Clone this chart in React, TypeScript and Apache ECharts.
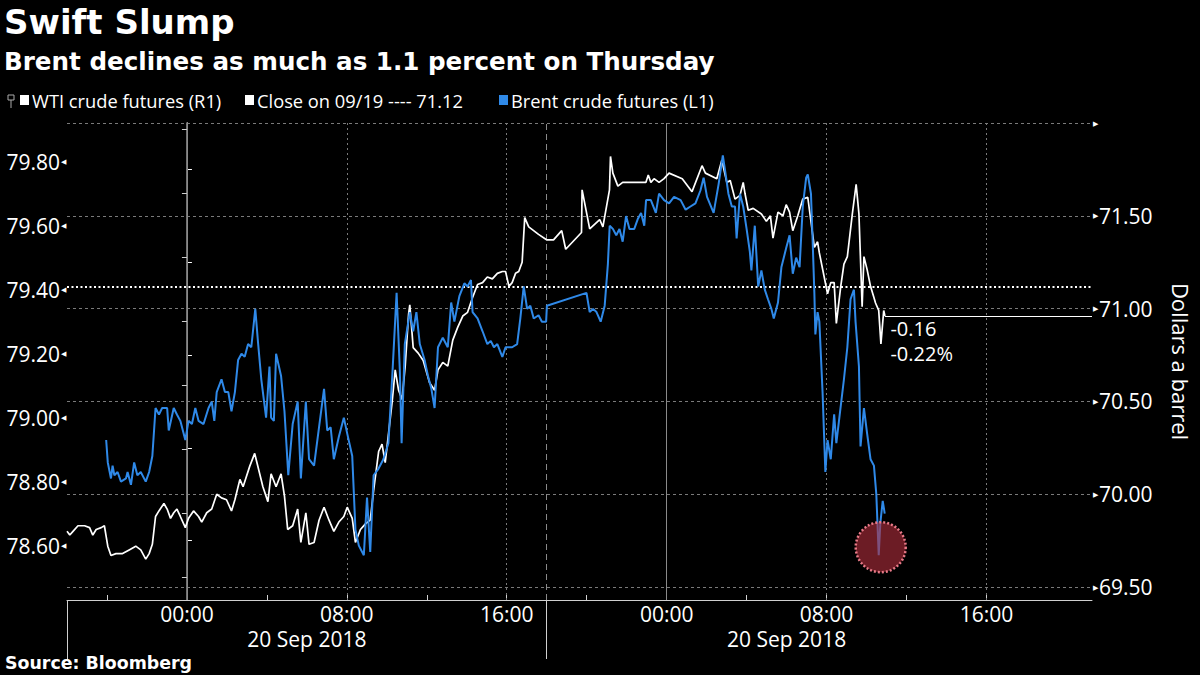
import React, { useEffect, useRef } from "react";
import * as echarts from "echarts";

// ---- Data (hours relative to 20 Sep 2018 00:00, price) ----
const wtiSeries: [number, number][] = [
  [-6.0, 69.8], [-5.86, 69.78], [-5.7, 69.8], [-5.45, 69.83], [-5.12, 69.83], [-4.87, 69.82], [-4.71, 69.78],
  [-4.54, 69.81], [-4.29, 69.82], [-4.13, 69.83], [-3.96, 69.72], [-3.8, 69.67], [-3.55, 69.68], [-3.22, 69.68],
  [-2.89, 69.7], [-2.56, 69.72], [-2.31, 69.7], [-2.06, 69.65], [-1.89, 69.68], [-1.73, 69.73], [-1.57, 69.88],
  [-1.4, 69.91], [-1.15, 69.95], [-0.99, 69.92], [-0.82, 69.87], [-0.66, 69.9], [-0.5, 69.92], [-0.33, 69.88],
  [-0.08, 69.82], [0.08, 69.87], [0.33, 69.91], [0.58, 69.88], [0.74, 69.85], [0.99, 69.9], [1.24, 69.92],
  [1.49, 70.0], [1.73, 69.98], [1.98, 69.97], [2.23, 69.91], [2.4, 69.97], [2.65, 70.08], [2.81, 70.04],
  [3.14, 70.15], [3.39, 70.22], [3.64, 70.11], [3.8, 70.04], [4.05, 69.96], [4.21, 70.11], [4.46, 70.04],
  [4.71, 70.11], [4.88, 69.99], [5.04, 69.81], [5.29, 69.83], [5.54, 69.92], [5.7, 69.74], [5.95, 69.9],
  [6.11, 69.73], [6.36, 69.74], [6.61, 69.86], [6.86, 69.93], [7.11, 69.86], [7.35, 69.8], [7.6, 69.85],
  [7.85, 69.88], [8.02, 69.93], [8.27, 69.87], [8.43, 69.74], [8.68, 69.81], [8.93, 69.84], [9.17, 69.86],
  [9.34, 70.02], [9.59, 70.23], [9.76, 70.27], [9.92, 70.17], [10.09, 70.33], [10.26, 70.49], [10.42, 70.67],
  [10.59, 70.56], [10.76, 70.51], [10.92, 70.69], [11.09, 70.97], [11.15, 71.02], [11.32, 70.79], [11.57, 70.76],
  [11.82, 70.72], [12.14, 70.6], [12.39, 70.56], [12.56, 70.67], [12.8, 70.71], [13.05, 70.69], [13.3, 70.83],
  [13.55, 70.9], [13.8, 70.96], [14.04, 70.98], [14.29, 71.06], [14.54, 71.13], [14.79, 71.14], [15.03, 71.17],
  [15.28, 71.16], [15.53, 71.19], [15.78, 71.2], [15.94, 71.2], [16.11, 71.12], [16.27, 71.14], [16.44, 71.19],
  [16.6, 71.2], [16.77, 71.25], [16.9, 71.49], [17.1, 71.44], [17.59, 71.4], [18.01, 71.37], [18.34, 71.37],
  [18.75, 71.42], [18.95, 71.32], [19.74, 71.41], [19.77, 71.64], [20.15, 71.43], [20.65, 71.48], [20.81, 71.44],
  [21.14, 71.64], [21.19, 71.82], [21.31, 71.73], [21.56, 71.66], [21.8, 71.68], [22.96, 71.68], [23.08, 71.72],
  [23.21, 71.68], [23.37, 71.7], [23.62, 71.68], [23.87, 71.7], [24.12, 71.73], [24.78, 71.7], [25.27, 71.63],
  [25.77, 71.77], [25.94, 71.73], [26.51, 71.7], [26.76, 71.8], [27.01, 71.68], [27.18, 71.69], [27.42, 71.59],
  [27.67, 71.61], [27.83, 71.68], [27.92, 71.62], [28.08, 71.53], [28.33, 71.54], [28.74, 71.51], [28.99, 71.47],
  [29.19, 71.5], [29.32, 71.38], [29.57, 71.52], [29.82, 71.5], [29.98, 71.56], [30.15, 71.52], [30.31, 71.42],
  [30.56, 71.5], [30.81, 71.59], [31.06, 71.6], [31.39, 71.33], [31.55, 71.36], [31.64, 71.3], [32.05, 71.08],
  [32.21, 71.14], [32.38, 71.14], [32.49, 70.92], [32.71, 71.12], [32.87, 71.24], [33.04, 71.28], [33.29, 71.51],
  [33.48, 71.67], [33.62, 71.51], [33.78, 71.01], [33.87, 71.28], [34.03, 71.21], [34.2, 71.12], [34.37, 71.06],
  [34.45, 71.03], [34.61, 70.99], [34.72, 70.81], [34.86, 70.99], [34.92, 70.96],
];

const brentSeries: [number, number][] = [
  [-4.04, 78.93], [-3.96, 78.86], [-3.8, 78.81], [-3.72, 78.85], [-3.63, 78.82], [-3.47, 78.83], [-3.3, 78.8],
  [-3.05, 78.81], [-2.97, 78.83], [-2.8, 78.79], [-2.64, 78.86], [-2.48, 78.82], [-2.31, 78.83], [-2.06, 78.8],
  [-1.89, 78.83], [-1.73, 78.88], [-1.57, 79.03], [-1.4, 79.01], [-1.24, 79.03], [-0.99, 79.03], [-0.91, 78.96],
  [-0.66, 79.03], [-0.5, 79.01], [-0.33, 78.99], [-0.08, 78.93], [0.08, 78.99], [0.25, 78.98], [0.42, 79.03],
  [0.58, 78.99], [0.83, 78.98], [1.08, 79.03], [1.24, 79.05], [1.37, 78.99], [1.49, 79.08], [1.73, 79.12],
  [1.9, 79.08], [2.07, 79.08], [2.23, 79.02], [2.4, 79.08], [2.56, 79.18], [2.73, 79.2], [2.89, 79.19],
  [3.06, 79.23], [3.22, 79.22], [3.42, 79.34], [3.55, 79.24], [3.72, 79.12], [3.96, 79.0], [4.13, 79.16],
  [4.21, 79.0], [4.35, 78.99], [4.46, 79.2], [4.71, 79.13], [4.88, 79.02], [5.07, 78.82], [5.29, 78.98],
  [5.54, 79.05], [5.7, 78.81], [5.95, 79.05], [6.11, 78.87], [6.36, 78.85], [6.61, 78.97], [6.86, 79.09],
  [7.02, 78.96], [7.19, 78.97], [7.35, 78.87], [7.6, 78.94], [7.85, 79.0], [8.02, 78.95], [8.27, 78.88],
  [8.43, 78.65], [8.6, 78.6], [8.85, 78.57], [9.01, 78.75], [9.17, 78.58], [9.34, 78.82], [9.58, 78.84],
  [9.83, 78.87], [10.08, 78.92], [10.29, 79.15], [10.49, 79.39], [10.65, 79.15], [10.74, 78.92], [10.9, 79.23],
  [11.15, 79.33], [11.32, 79.27], [11.48, 79.33], [11.65, 79.23], [11.89, 79.18], [12.06, 79.13], [12.23, 79.09],
  [12.39, 79.03], [12.56, 79.22], [12.8, 79.25], [13.05, 79.22], [13.22, 79.36], [13.38, 79.3], [13.63, 79.38],
  [13.88, 79.42], [14.04, 79.41], [14.21, 79.43], [14.29, 79.33], [14.54, 79.31], [14.79, 79.27], [15.03, 79.23],
  [15.2, 79.24], [15.36, 79.22], [15.53, 79.23], [15.78, 79.19], [15.94, 79.22], [16.27, 79.22], [16.52, 79.23],
  [16.68, 79.31], [16.85, 79.41], [17.02, 79.34], [17.18, 79.35], [17.35, 79.31], [17.59, 79.32], [17.76, 79.3],
  [17.97, 79.3], [18.01, 79.35], [19.99, 79.39], [20.15, 79.33], [20.32, 79.34], [20.49, 79.33], [20.7, 79.3],
  [20.9, 79.35], [21.06, 79.48], [21.15, 79.6], [21.31, 79.59], [21.48, 79.57], [21.64, 79.59], [21.8, 79.55],
  [21.97, 79.63], [22.14, 79.59], [22.38, 79.59], [22.55, 79.62], [22.72, 79.64], [22.88, 79.6], [22.97, 79.68],
  [23.21, 79.68], [23.46, 79.64], [23.62, 79.7], [23.87, 79.68], [24.12, 79.67], [24.37, 79.69], [24.7, 79.68],
  [24.95, 79.65], [25.19, 79.66], [25.44, 79.67], [25.69, 79.71], [25.85, 79.75], [26.02, 79.69], [26.35, 79.64],
  [26.6, 79.73], [26.81, 79.82], [26.93, 79.77], [27.09, 79.7], [27.26, 79.66], [27.42, 79.66], [27.5, 79.56],
  [27.67, 79.7], [27.83, 79.66], [28.0, 79.59], [28.16, 79.52], [28.24, 79.46], [28.41, 79.6], [28.58, 79.41],
  [28.74, 79.46], [28.91, 79.4], [29.07, 79.37], [29.24, 79.34], [29.36, 79.31], [29.57, 79.36], [29.74, 79.47],
  [29.98, 79.53], [30.15, 79.57], [30.31, 79.45], [30.48, 79.5], [30.65, 79.47], [30.81, 79.66], [30.98, 79.75],
  [31.06, 79.76], [31.22, 79.7], [31.3, 79.56], [31.39, 79.39], [31.44, 79.26], [31.55, 79.33], [31.64, 79.3],
  [31.8, 79.08], [31.94, 78.83], [32.05, 78.93], [32.21, 78.87], [32.38, 79.01], [32.49, 78.92], [32.66, 79.01],
  [32.87, 79.12], [33.04, 79.22], [33.2, 79.37], [33.37, 79.4], [33.45, 79.3], [33.62, 79.16], [33.7, 78.91],
  [33.87, 79.03], [34.03, 78.95], [34.2, 78.87], [34.37, 78.85], [34.49, 78.76], [34.61, 78.57], [34.69, 78.67],
  [34.81, 78.74], [34.91, 78.7],
];

const priorClose = 71.12;
const wtiLast: [number, number] = [34.92, 70.96];
const brentLow: [number, number] = [34.61, 78.57];
const changeLabels = ["-0.16", "-0.22%"];

const xLabelHours = [0, 8, 16, 24, 32, 40];
const xTickHours = [-4, 0, 4, 8, 12, 16, 20, 24, 28, 32, 36, 40];
const dayLabelHours = [6, 30];
const dayLabel = "20 Sep 2018";
const daySeparatorHours = [-6, 18];
const solidGridHours = [0, 24];
const dottedGridHours = [8, 16, 32, 40];
const dashedGridHours = [18];

const leftLabels = [78.6, 78.8, 79.0, 79.2, 79.4, 79.6, 79.8];
const leftTicks = [78.5, 78.7, 78.9, 79.1, 79.3, 79.5, 79.7, 79.9];
const rightLabels = [69.5, 70.0, 70.5, 71.0, 71.5, 72.0];
const rightTicks = [69.75, 70.25, 70.75, 71.25, 71.75];

const legendItems = [
  { name: "WTI crude futures (R1)", color: "#ffffff" },
  { name: "Close on 09/19 ---- 71.12", color: "#ffffff" },
  { name: "Brent crude futures (L1)", color: "#2f89e8" },
];

const FONT = "Open Sans";
const WIDE = "DejaVu Sans";
const BLUE = "#2f89e8";

const fmtHour = (v: number) => String((((Math.round(v) % 24) + 24) % 24)).padStart(2, "0") + ":00";

export default function App() {
  const ref = useRef<HTMLDivElement>(null);

  useEffect(() => {
    document.body.style.margin = "0";
    document.body.style.background = "#000";
    const chart = echarts.init(ref.current!, null, { renderer: "svg" });

    const legendX = [20, 245, 499];
    const graphic: any[] = [
      {
        type: "text", left: 4, top: 5,
        style: {
          text: "Swift Slump", fill: "#fff", fontSize: 34, fontWeight: "bold", fontFamily: WIDE,
        },
      },
      {
        type: "text", left: 4, top: 48,
        style: {
          text: "Brent declines as much as 1.1 percent on Thursday", fill: "#fff",
          fontSize: 24.6, fontWeight: "bold", fontFamily: WIDE, lineHeight: 26,
        },
      },
      {
        type: "text", left: 5, top: 653,
        style: { text: "Source: Bloomberg", fill: "#fff", fontSize: 17.4, fontWeight: "bold", fontFamily: WIDE, lineHeight: 19 },
      },
      // small pin icon
      { type: "rect", shape: { x: 8, y: 95, width: 6, height: 5 }, style: { fill: "none", stroke: "#aaa", lineWidth: 1 } },
      { type: "line", shape: { x1: 11, y1: 100, x2: 11, y2: 108 }, style: { stroke: "#aaa", lineWidth: 1 } },
    ];
    legendItems.forEach((it, i) => {
      graphic.push({
        type: "rect",
        shape: { x: legendX[i], y: 95, width: 9, height: 10 },
        style: { fill: it.color },
      });
      graphic.push({
        type: "text",
        x: legendX[i] + 12, y: 100,
        style: { text: it.name, fill: "#fff", fontSize: 18.3, fontFamily: FONT, verticalAlign: "middle" },
      });
    });

    const gridLine = (color: string, type: any) => ({ color, width: 1, type });
    const changeLabel = (text: string, dy: number) => ({
      coord: wtiLast,
      symbol: "circle",
      symbolSize: 1,
      itemStyle: { color: "rgba(0,0,0,0)" },
      label: {
        show: true,
        position: [6, dy],
        align: "left",
        verticalAlign: "top",
        formatter: text,
        color: "#fff",
        fontSize: 20,
        lineHeight: 20,
        fontFamily: FONT,
      },
    });

    const option: any = {
      animation: false,
      backgroundColor: "#000",
      textStyle: { fontFamily: FONT },
      grid: { left: 67, right: 98, top: 123, bottom: 75 },
      graphic,
      xAxis: [
        {
          type: "value", min: -6, max: 45.28, position: "bottom",
          axisLine: { show: true, lineStyle: { color: "#d0d0d0", width: 1 } },
          axisTick: { show: true, inside: true, length: 5, customValues: xTickHours, lineStyle: { color: "#d0d0d0" } },
          axisLabel: { customValues: xLabelHours, formatter: fmtHour, color: "#fff", fontSize: 21, margin: 3, fontFamily: FONT },
          splitLine: { show: false },
        },
        {
          type: "value", min: -6, max: 45.28, position: "bottom",
          axisLine: { show: false },
          axisTick: { show: true, inside: false, length: 59, customValues: daySeparatorHours, lineStyle: { color: "#d0d0d0" } },
          axisLabel: { customValues: dayLabelHours, formatter: () => dayLabel, color: "#fff", fontSize: 21, margin: 28, fontFamily: FONT },
          splitLine: { show: false },
        },
      ],
      yAxis: [
        {
          type: "value", position: "left", min: 78.43, max: 79.921,
          axisLine: { show: true, lineStyle: { color: "#9a9a9a", width: 1.5 } },
          axisTick: { show: true, length: 5, customValues: leftTicks, lineStyle: { color: "#cfcfcf" } },
          axisLabel: {
            customValues: leftLabels, margin: 1,
            formatter: (v: number) => `{t|${v.toFixed(2)}}{a|◀}`,
            rich: {
              t: { color: "#fff", fontSize: 21, fontFamily: FONT },
              a: { color: "#fff", fontSize: 7, padding: [0, 0, 0, 1] },
            },
          },
          splitLine: { show: false },
        },
        {
          type: "value", position: "right", min: 69.43, max: 72.0,
          name: "Dollars a barrel", nameLocation: "middle", nameRotate: -90, nameGap: 78,
          nameTextStyle: { color: "#fff", fontSize: 22, fontFamily: FONT },
          axisLine: { show: true, lineStyle: { color: "#ffffff", width: 1 } },
          axisTick: { show: true, length: 5, customValues: rightTicks, lineStyle: { color: "#fff" } },
          axisLabel: {
            customValues: rightLabels, margin: 1,
            formatter: (v: number) => (Math.abs(v - 72) < 1e-6 ? "{a|▶}" : `{a|▶}{t|${v.toFixed(2)}}`),
            rich: {
              t: { color: "#fff", fontSize: 21, fontFamily: FONT },
              a: { color: "#fff", fontSize: 7, padding: [0, 1, 0, 0] },
            },
          },
          splitLine: { show: false },
        },
      ],
      series: [
        {
          name: "grid",
          type: "line",
          xAxisIndex: 0,
          yAxisIndex: 1,
          data: [],
          silent: true,
          markLine: {
            silent: true,
            z: 1,
            symbol: ["none", "none"],
            label: { show: false },
            emphasis: { disabled: true },
            data: [
              ...rightLabels.map((v) => ({ yAxis: v, lineStyle: gridLine("#7a7a7a", [3, 3]) })),
              ...solidGridHours.map((h) => ({ xAxis: h, lineStyle: gridLine("#8a8a8a", "solid") })),
              ...dottedGridHours.map((h) => ({ xAxis: h, lineStyle: gridLine("#7a7a7a", [2, 3]) })),
              ...dashedGridHours.map((h) => ({ xAxis: h, lineStyle: gridLine("#8a8a8a", [6, 4]) })),
              { yAxis: priorClose, lineStyle: { color: "#ffffff", width: 2, type: [2, 2.5] } },
            ],
          },
        },
        {
          name: "WTI crude futures (R1)",
          type: "line",
          xAxisIndex: 0,
          yAxisIndex: 1,
          data: wtiSeries,
          showSymbol: false,
          z: 3,
          lineStyle: { color: "#ffffff", width: 1.7 },
          itemStyle: { color: "#ffffff" },
          markLine: {
            silent: true,
            symbol: ["none", "none"],
            label: { show: false },
            lineStyle: { color: "#ffffff", width: 1, type: "solid" },
            data: [[{ coord: wtiLast }, { coord: [45.28, wtiLast[1]] }]],
          },
          markPoint: {
            silent: true,
            data: [changeLabel(changeLabels[0], 3), changeLabel(changeLabels[1], 28)],
          },
        },
        {
          name: "Brent crude futures (L1)",
          type: "line",
          xAxisIndex: 0,
          yAxisIndex: 0,
          data: brentSeries,
          showSymbol: false,
          z: 4,
          lineStyle: { color: BLUE, width: 2 },
          itemStyle: { color: BLUE },
          markPoint: {
            silent: true,
            data: [
              {
                coord: brentLow,
                symbol: "circle",
                symbolSize: 50,
                symbolOffset: [2, -8],
                itemStyle: {
                  color: "rgba(175,45,60,0.62)",
                  borderColor: "#e87a88",
                  borderWidth: 2.5,
                  borderType: [2, 2],
                },
                label: { show: false },
              },
            ],
          },
        },
      ],
    };

    chart.setOption(option);
    return () => chart.dispose();
  }, []);

  return (
    <div
      ref={ref}
      style={{ position: "fixed", left: 0, top: 0, width: 1200, height: 675, background: "#000" }}
    />
  );
}
